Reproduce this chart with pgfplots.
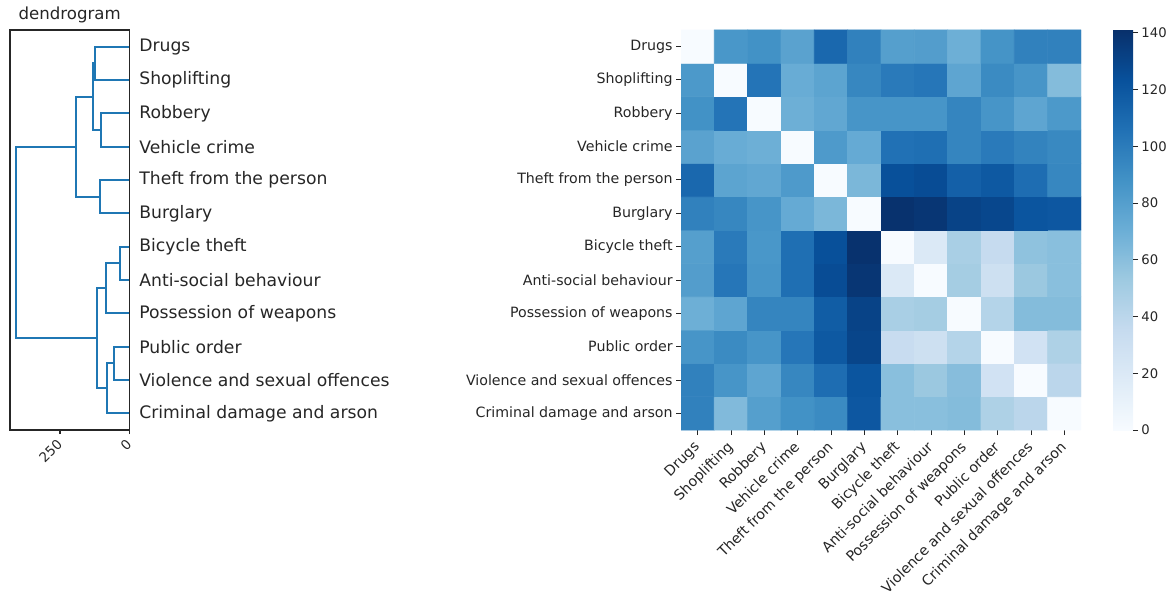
\documentclass[border=0pt]{standalone}
\usepackage{fontspec}
\setmainfont{DejaVu Sans}
\usepackage{pgfplots}
\pgfplotsset{compat=1.18}
\definecolor{txt}{HTML}{262626}
\definecolor{link}{HTML}{1F77B4}

\begin{document}
\begin{tikzpicture}[text=txt]
\path[use as bounding box] (0,0) rectangle (588pt,297pt);

% ---------- dendrogram (merge distance on x, leaves on y) ----------
\begin{axis}[
  at={(5pt,82pt)}, anchor=south west,
  scale only axis, width=59.67pt, height=200pt,
  xmin=0, xmax=430.3, x dir=reverse,
  ymin=-0.5, ymax=11.5,
  /pgf/number format/assume math mode=true,
  axis line style={txt, line width=0.6pt},
  xtick={0,250}, xtick pos=bottom, tick align=outside,
  major tick length=2pt,
  xtick style={txt, line width=0.6pt},
  xticklabel style={xshift=-2pt, yshift=-0.5pt, rotate=45, anchor=north east,
    inner sep=1pt, font=\fontsize{6.7}{8}\selectfont},
  ytick={0,...,11},
  yticklabels={Criminal damage and arson, Violence and sexual offences,
    Public order, Possession of weapons, Anti-social behaviour,
    Bicycle theft, Burglary, Theft from the person, Vehicle crime,
    Robbery, Shoplifting, Drugs},
  yticklabel pos=right, ytick style={draw=none},
  yticklabel style={anchor=west, inner sep=0pt, xshift=2.8pt,
    font=\fontsize{8.6}{10}\selectfont},
  title=dendrogram,
  every axis title shift=0pt,
  title style={at={(0.5,1)}, anchor=south, inner sep=0pt, yshift=3.5pt,
    font=\fontsize{8.3}{10}\selectfont},
]
\addplot[link, line width=1pt] coordinates {(0,11) (123.8,11) (123.8,10) (0,10)};
\addplot[link, line width=1pt] coordinates {(0,9) (103.4,9) (103.4,8) (0,8)};
\addplot[link, line width=1pt] coordinates {(123.8,10.5) (132.2,10.5) (132.2,8.5) (103.4,8.5)};
\addplot[link, line width=1pt] coordinates {(0,7) (105.8,7) (105.8,6) (0,6)};
\addplot[link, line width=1pt] coordinates {(132.2,9.5) (192.3,9.5) (192.3,6.5) (105.8,6.5)};
\addplot[link, line width=1pt] coordinates {(0,5) (33.6,5) (33.6,4) (0,4)};
\addplot[link, line width=1pt] coordinates {(33.6,4.5) (85.3,4.5) (85.3,3) (0,3)};
\addplot[link, line width=1pt] coordinates {(0,2) (54.1,2) (54.1,1) (0,1)};
\addplot[link, line width=1pt] coordinates {(54.1,1.5) (79.3,1.5) (79.3,0) (0,0)};
\addplot[link, line width=1pt] coordinates {(85.3,3.75) (117.8,3.75) (117.8,0.75) (79.3,0.75)};
\addplot[link, line width=1pt] coordinates {(192.3,8) (408.7,8) (408.7,2.25) (117.8,2.25)};
\end{axis}

% ---------- distance matrix heatmap ----------
\begin{axis}[
  at={(340.5pt,82pt)}, anchor=south west,
  scale only axis, width=200pt, height=200pt,
  xmin=-0.5, xmax=11.5, ymin=-0.5, ymax=11.5,
  axis line style={draw=none},
  tick align=outside, major tick length=2.5pt,
  tick style={txt, line width=0.5pt},
  xtick={0,...,11}, xtick pos=bottom,
  xticklabels={Drugs, Shoplifting, Robbery, Vehicle crime,
    Theft from the person, Burglary, Bicycle theft, Anti-social behaviour,
    Possession of weapons, Public order, Violence and sexual offences,
    Criminal damage and arson},
  xticklabel style={xshift=-2.5pt, yshift=-1pt, rotate=45, anchor=north east,
    inner sep=1pt, font=\fontsize{7.1}{8.5}\selectfont},
  ytick={0,...,11}, ytick pos=left,
  yticklabels={Criminal damage and arson, Violence and sexual offences,
    Public order, Possession of weapons, Anti-social behaviour,
    Bicycle theft, Burglary, Theft from the person, Vehicle crime,
    Robbery, Shoplifting, Drugs},
  yticklabel style={inner sep=1.5pt, font=\fontsize{7.1}{8.5}\selectfont},
  colormap={blues}{rgb255=(247,251,255) rgb255=(222,235,247)
    rgb255=(198,219,239) rgb255=(158,202,225) rgb255=(107,174,214)
    rgb255=(66,146,198) rgb255=(33,113,181) rgb255=(8,81,156)
    rgb255=(8,48,107)},
  point meta min=0, point meta max=141,
  colorbar,
  colorbar style={
    at={(parent axis.north east)}, anchor=north west, xshift=7.5pt,
    width=10pt, height=200pt,
    axis line style={draw=none},
    ytick={0,20,...,140}, ytick pos=right, yticklabel pos=right,
    tick align=outside, major tick length=2.5pt,
    tick style={txt, line width=0.5pt},
    /pgf/number format/assume math mode=true,
    yticklabel style={inner sep=1.5pt, font=\fontsize{6.6}{8}\selectfont},
  },
]
\addplot [matrix plot*, mesh/cols=12, point meta=explicit] coordinates {
(0,0)[97] (1,0)[63] (2,0)[80] (3,0)[88] (4,0)[92] (5,0)[120] (6,0)[60] (7,0)[60] (8,0)[62] (9,0)[46] (10,0)[40] (11,0)[0]
(0,1)[97] (1,1)[86] (2,1)[76] (3,1)[94] (4,1)[108] (5,1)[121] (6,1)[60] (7,1)[54] (8,1)[61] (9,1)[27] (10,1)[0] (11,1)[40]
(0,2)[86] (1,2)[92] (2,2)[86] (3,2)[103] (4,2)[119] (5,2)[130] (6,2)[34] (7,2)[30] (8,2)[43] (9,2)[0] (10,2)[27] (11,2)[46]
(0,3)[70] (1,3)[76] (2,3)[95] (3,3)[95] (4,3)[117] (5,3)[131] (6,3)[48] (7,3)[50] (8,3)[0] (9,3)[43] (10,3)[62] (11,3)[62]
(0,4)[81] (1,4)[103] (2,4)[86] (3,4)[107] (4,4)[126] (5,4)[138] (6,4)[20] (7,4)[0] (8,4)[50] (9,4)[30] (10,4)[54] (11,4)[60]
(0,5)[80] (1,5)[101] (2,5)[85] (3,5)[107] (4,5)[124] (5,5)[140] (6,5)[0] (7,5)[20] (8,5)[48] (9,5)[35] (10,5)[58] (11,5)[60]
(0,6)[97] (1,6)[94] (2,6)[86] (3,6)[73] (4,6)[65] (5,6)[0] (6,6)[140] (7,6)[138] (8,6)[131] (9,6)[129] (10,6)[121] (11,6)[120]
(0,7)[111] (1,7)[77] (2,7)[75] (3,7)[83] (4,7)[0] (5,7)[65] (6,7)[124] (7,7)[126] (8,7)[115] (9,7)[119] (10,7)[108] (11,7)[94]
(0,8)[78] (1,8)[72] (2,8)[70] (3,8)[0] (4,8)[83] (5,8)[73] (6,8)[106] (7,8)[107] (8,8)[95] (9,8)[101] (10,8)[96] (11,8)[93]
(0,9)[88] (1,9)[104] (2,9)[0] (3,9)[70] (4,9)[75] (5,9)[86] (6,9)[86] (7,9)[86] (8,9)[95] (9,9)[86] (10,9)[76] (11,9)[84]
(0,10)[84] (1,10)[0] (2,10)[104] (3,10)[72] (4,10)[77] (5,10)[94] (6,10)[101] (7,10)[103] (8,10)[76] (9,10)[92] (10,10)[86] (11,10)[62]
(0,11)[0] (1,11)[85] (2,11)[88] (3,11)[78] (4,11)[111] (5,11)[97] (6,11)[80] (7,11)[81] (8,11)[70] (9,11)[87] (10,11)[97] (11,11)[97]
};
\end{axis}
\end{tikzpicture}
\end{document}
